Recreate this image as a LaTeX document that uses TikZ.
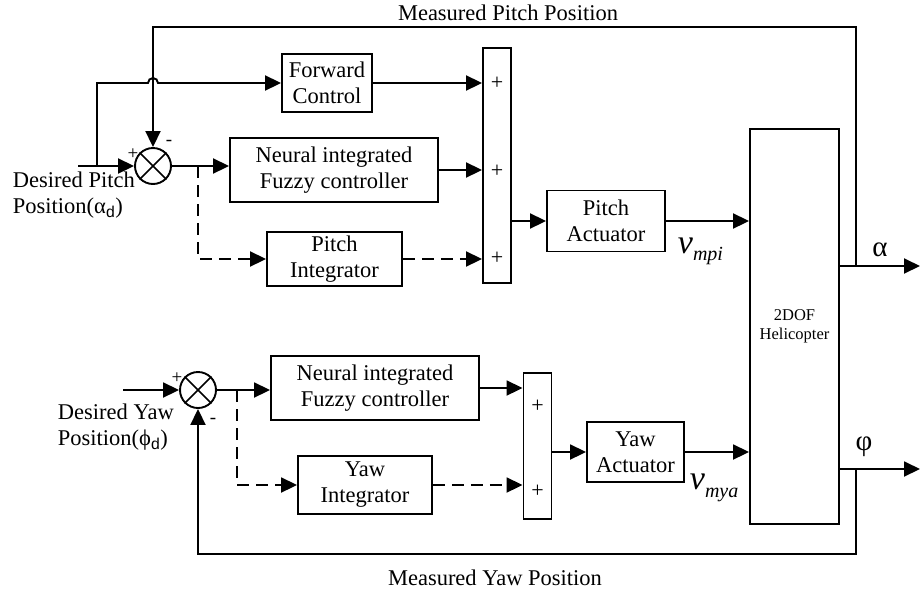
\documentclass[tikz,border=0pt]{standalone}
\usepackage{fontspec}
\setmainfont{Liberation Serif}
\setsansfont{Liberation Sans}
\usetikzlibrary{arrows.meta}

\begin{document}
\begin{tikzpicture}[x=1pt,y=-1pt,line width=1.9pt,
  txt/.style={font=\fontsize{22.5}{26}\selectfont},
  blk/.style={draw,rectangle,inner sep=0pt,align=center,txt},
  bar/.style={draw,rectangle,inner sep=0pt,minimum width=28pt},
  sumj/.style={draw,circle,minimum size=36pt,inner sep=0pt},
  sig/.style={-{Triangle[length=16pt,width=15pt]}},
  dsh/.style={dash pattern=on 12pt off 7pt},
  lbl/.style={inner sep=0pt,txt},
  sgn/.style={inner sep=0pt,font=\fontsize{19}{19}\selectfont},
  plus/.style={inner sep=0pt,font=\fontsize{22}{22}\selectfont},
  greek/.style={inner sep=0pt,font=\fontsize{29}{29}\selectfont},
  volt/.style={inner sep=0pt,anchor=base west,font=\fontsize{34}{34}\selectfont\itshape}]
\useasboundingbox (0,0) rectangle (920,592);

% ---------------- pitch channel ----------------
\node[sumj] (psum) at (153,166) {};
\draw[line width=1.5pt] (psum.north east) -- (psum.south west)
                        (psum.north west) -- (psum.south east);
\node[sgn] (pplus) at (133,154) {+};
\node[sgn] (pminus) at (169,143) {-};

\node[blk,minimum width=90pt,minimum height=58pt] (fc) at (327,83) {Forward\\Control};
\node[blk,minimum width=208pt,minimum height=64pt] (pn) at (334,170) {Neural integrated\\Fuzzy controller};
\node[blk,minimum width=135pt,minimum height=54pt] (pint) at (334.5,259) {Pitch\\Integrator};
\node[bar,minimum height=235pt] (pbar) at (497,165.5) {};
\node[plus] (pp1) at (497,83) {+};
\node[plus] (pp2) at (497,171) {+};
\node[plus] (pp3) at (497,258) {+};
\node[blk,minimum width=118pt,minimum height=61pt] (pact) at (606,221) {Pitch\\Actuator};

% ---------------- plant ----------------
\node[draw,rectangle,inner sep=0pt,minimum width=89pt,minimum height=395pt,align=center,
      font=\fontsize{16.5}{19}\selectfont] (heli) at (794.5,326.5) {2DOF\\Helicopter};

% ---------------- yaw channel ----------------
\node[sumj] (ysum) at (198,390) {};
\draw[line width=1.5pt] (ysum.north east) -- (ysum.south west)
                        (ysum.north west) -- (ysum.south east);
\node[sgn] (yplus) at (177,378) {+};
\node[sgn] (yminus) at (213,421) {-};

\node[blk,minimum width=208pt,minimum height=64pt] (yn) at (375,388) {Neural integrated\\Fuzzy controller};
\node[blk,minimum width=134pt,minimum height=58pt] (yint) at (365,485) {Yaw\\Integrator};
\node[bar,minimum height=146pt] (ybar) at (537.5,446) {};
\node[plus] (yp1) at (537.5,406) {+};
\node[plus] (yp2) at (537.5,491) {+};
\node[blk,minimum width=97pt,minimum height=60pt] (yact) at (635.5,452) {Yaw\\Actuator};

% ---------------- labels (base = last line) ----------------
\node[lbl,anchor=base west,align=left] (pdes) at (12,213)
  {Desired Pitch\\Position(α\textsubscript{\sffamily d})};
\node[lbl,anchor=base west,align=left] (ydes) at (57,445)
  {Desired Yaw\\Position(ϕ\textsubscript{\sffamily d})};
\node[lbl,anchor=base] (mpp) at (508,20) {Measured Pitch Position};
\node[lbl,anchor=base] (myp) at (495,585) {Measured Yaw Position};
\node[greek] (alab) at (880,250) {α};
\node[greek] (flab) at (864,447) {φ};
\node[volt] (vmpi) at (677,253) {v\raisebox{-7pt}{\fontsize{20}{20}\selectfont mpi}};
\node[volt] (vmya) at (689,489) {v\raisebox{-8pt}{\fontsize{20}{20}\selectfont mya}};

% ---------------- junction points ----------------
\coordinate (pin) at (78,166);
\coordinate (pbr) at (97,166);
\coordinate (pup) at (97,83);
\coordinate (hop) at (148,83);
\coordinate (pdt) at (198,166);
\coordinate (yin) at (123,390);
\coordinate (ydt) at (237,390);
\coordinate (atap) at (856,266);
\coordinate (ptop) at (856,27);
\coordinate (aout) at (920,266);
\coordinate (ftap) at (856,469);
\coordinate (ybot) at (856,554);
\coordinate (fout) at (920,469);

% ---------------- pitch connectors ----------------
\draw[sig] (pin) -- (psum.west);
\draw[sig] (pbr) -- (pup) -- (hop) arc[start angle=180,end angle=0,radius=5pt] -- (fc.west);
\draw[sig] (psum.east) -- (psum.east -| pn.west);
\draw[sig,dsh] (pdt) |- (pint.west);
\draw[sig] (fc.east) -- (fc.east -| pbar.west);
\draw[sig] (pn.east) -- (pn.east -| pbar.west);
\draw[sig,dsh] (pint.east) -- (pint.east -| pbar.west);
\draw[sig] (pbar.east |- pact.west) -- (pact.west);
\draw[sig] (pact.east) -- (pact.east -| heli.west);
\draw[sig] (heli.east |- atap) -- (aout);
\draw[sig] (atap) -- (ptop) -| (psum.north);

% ---------------- yaw connectors ----------------
\draw[sig] (yin) -- (ysum.west);
\draw[sig] (ysum.east) -- (ysum.east -| yn.west);
\draw[sig,dsh] (ydt) |- (yint.west);
\draw[sig] (yn.east) -- (yn.east -| ybar.west);
\draw[sig,dsh] (yint.east) -- (yint.east -| ybar.west);
\draw[sig] (ybar.east |- yact.west) -- (yact.west);
\draw[sig] (yact.east) -- (yact.east -| heli.west);
\draw[sig] (heli.east |- ftap) -- (fout);
\draw[sig] (ftap) -- (ybot) -| (ysum.south);
\end{tikzpicture}
\end{document}
